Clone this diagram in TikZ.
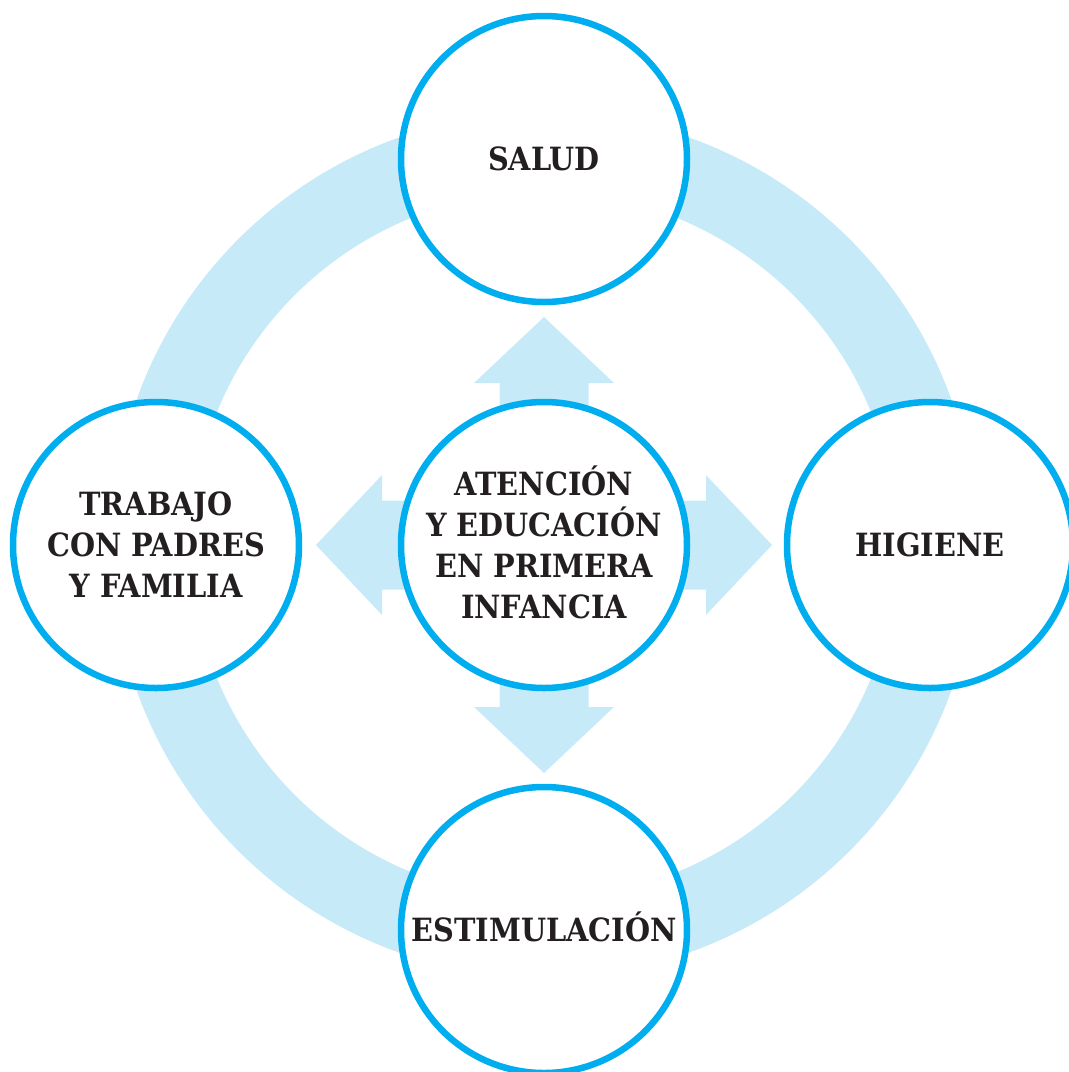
\documentclass[tikz,border=0pt]{standalone}
\usepackage{fontspec}
\setmainfont{DejaVu Serif Condensed}
\begin{document}
\begin{tikzpicture}[x=1pt,y=-1pt]
\definecolor{cyanline}{HTML}{00AEEF}
\definecolor{ringblue}{HTML}{C7EAF9}
\definecolor{ink}{HTML}{231F20}
\tikzset{
  bubble/.style={circle,draw=cyanline,line width=6.5pt,fill=white,minimum size=286pt,
    inner sep=0pt,font=\bfseries\fontsize{32}{41}\selectfont,text=ink,align=center},
  flow/.style={fill=ringblue}
}
\useasboundingbox (0,0) rectangle (1069,1072);
\coordinate (o) at (544,545);
\draw[ringblue,line width=79.5pt] (o) circle[radius=392.7];
\foreach \a in {0,90,180,270}{
  \fill[flow,rotate around={\a:(o)}] (o) ++(-44.5,0) -- ++(0,-162) -- ++(-25.5,0)
     -- ++(70,-66) -- ++(70,66) -- ++(-25.5,0) -- ++(0,162) -- cycle;
}
\node[bubble] (cen) at (o) {ATENCI\smash{Ó}N\\Y EDUCACI\smash{Ó}N\\EN PRIMERA\\INFANCIA};
\node[bubble] (sal) at (544,159) {SALUD};
\node[bubble] (hig) at (930,545) {HIGIENE};
\node[bubble] (est) at (544,930) {ESTIMULACI\smash{Ó}N};
\node[bubble] (tra) at (156,545) {TRABAJO\\CON PADRES\\Y FAMILIA};
\end{tikzpicture}
\end{document}
